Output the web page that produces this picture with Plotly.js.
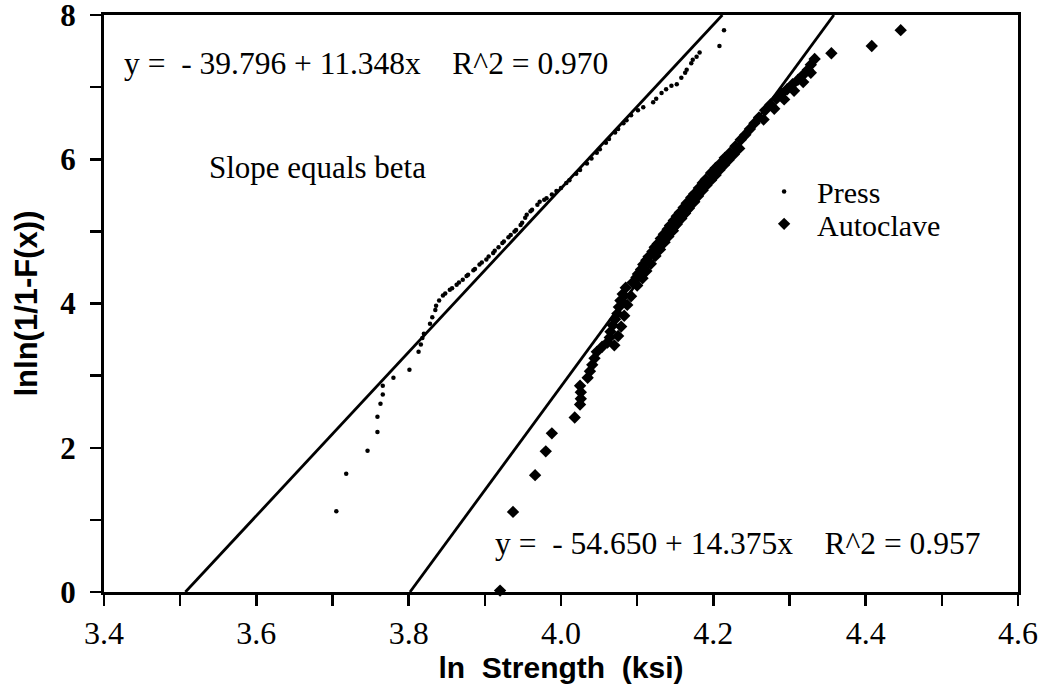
<!DOCTYPE html>
<html>
<head>
<meta charset="utf-8">
<script src="https://cdn.plot.ly/plotly-3.0.1.min.js"></script>
<style>html,body{margin:0;padding:0;background:#fff;}#chart{width:1043px;height:685px;}</style>
</head>
<body>
<div id="chart"></div>
<script>
// Press specimens: ln strength (ksi) and lnln(1/(1-F))
const pressX = [3.705,3.718,3.746,3.759,3.759,3.763,3.766,3.766,3.780,3.801,3.813,3.816,3.818,3.820,3.828,3.831,3.835,3.836,3.840,3.845,3.848,3.854,3.857,3.863,3.866,3.871,3.876,3.878,3.885,3.887,3.893,3.896,3.902,3.905,3.911,3.913,3.918,3.923,3.925,3.931,3.934,3.939,3.941,3.947,3.949,3.953,3.955,3.960,3.962,3.969,3.972,3.978,3.981,3.988,3.994,4.000,4.007,4.011,4.020,4.025,4.034,4.040,4.047,4.051,4.059,4.063,4.071,4.075,4.082,4.086,4.092,4.101,4.108,4.121,4.125,4.132,4.138,4.145,4.152,4.158,4.163,4.165,4.171,4.173,4.178,4.182,4.208,4.214];
const pressY = [1.12,1.64,1.96,2.22,2.43,2.61,2.74,2.86,2.97,3.08,3.33,3.43,3.52,3.58,3.72,3.81,3.91,3.97,4.04,4.11,4.14,4.19,4.21,4.26,4.29,4.33,4.38,4.40,4.46,4.48,4.54,4.57,4.61,4.65,4.70,4.73,4.78,4.84,4.86,4.92,4.95,5.00,5.02,5.09,5.12,5.19,5.23,5.28,5.30,5.37,5.41,5.44,5.46,5.51,5.56,5.60,5.67,5.71,5.80,5.85,5.94,6.01,6.09,6.14,6.23,6.28,6.37,6.42,6.50,6.54,6.61,6.68,6.72,6.79,6.84,6.92,6.97,7.02,7.04,7.13,7.20,7.24,7.33,7.38,7.42,7.48,7.57,7.79];
// Autoclave specimens
const autoX = [3.920,3.937,3.966,3.980,3.988,4.018,4.025,4.026,4.026,4.025,4.035,4.038,4.041,4.044,4.047,4.054,4.061,4.064,4.065,4.068,4.071,4.074,4.076,4.078,4.081,4.085,
  4.094,4.099,4.101,4.105,4.108,4.112,4.115,4.120,4.123,4.127,4.131,4.135,4.140,4.143,4.148,4.152,4.156,4.161,4.165,4.171,4.175,4.181,4.186,4.190,4.197,4.203,4.209,4.215,4.222,4.229,4.236,4.242,4.248,4.254,4.260,4.268,4.275,4.283,4.290,4.297,4.304,4.311,4.318,4.324,4.328,4.333,4.355,4.408,4.446,
  4.070,4.075,4.079,4.083,4.087,4.092,4.100,4.107,4.112,4.118,4.124,4.130,4.136,4.141,4.147,4.152,4.158,4.163,4.168,4.175,4.180,4.186,4.191,4.197,4.203,4.208,4.214,4.220,4.227,4.234,4.266,4.280,4.293,4.306,4.318,4.328];
const autoY = [0.02,1.11,1.62,1.95,2.20,2.42,2.60,2.68,2.77,2.86,2.97,3.06,3.15,3.24,3.33,3.40,3.46,3.53,3.61,3.70,3.78,3.86,3.95,4.04,4.13,4.22,
  4.29,4.36,4.41,4.47,4.54,4.60,4.65,4.72,4.78,4.83,4.90,4.96,5.03,5.08,5.15,5.21,5.26,5.33,5.39,5.47,5.52,5.60,5.67,5.72,5.81,5.88,5.94,6.02,6.09,6.18,6.27,6.34,6.42,6.50,6.58,6.68,6.76,6.84,6.91,6.97,7.04,7.10,7.17,7.24,7.31,7.39,7.47,7.57,7.79,
  3.42,3.55,3.68,3.83,3.98,4.10,4.25,4.35,4.45,4.55,4.66,4.75,4.85,4.93,5.01,5.10,5.18,5.25,5.32,5.41,5.49,5.57,5.64,5.71,5.78,5.85,5.92,5.99,6.07,6.15,6.55,6.70,6.83,6.95,7.07,7.20];
// Regression fits: y = a + b x
const pressFit = {a: -39.796, b: 11.348, r2: 0.970};
const autoFit = {a: -54.650, b: 14.375, r2: 0.957};
const xTickVals = [3.4,3.5,3.6,3.7,3.8,3.9,4.0,4.1,4.2,4.3,4.4,4.5,4.6];
const xTickText = ['3.4','','3.6','','3.8','','4.0','','4.2','','4.4','','4.6'];
const yTickVals = [0,1,2,3,4,5,6,7,8];
const yTickText = ['0','','2','','4','','6','','8'];

const yMin = 0, yMax = 8;
function fitLine(f){
  return {x:[(yMin - f.a)/f.b, (yMax - f.a)/f.b], y:[yMin, yMax]};
}
const pl = fitLine(pressFit), al = fitLine(autoFit);
const serif = 'Liberation Serif, Times New Roman, serif';
const sans = 'Liberation Sans, Arial, sans-serif';
const NB = '\u00A0';
function eqText(f){
  return 'y ='+NB+NB+'- '+Math.abs(f.a).toFixed(3)+' + '+f.b.toFixed(3)+'x'+NB+NB+NB+NB+'R^2 = '+f.r2.toFixed(3);
}

const traces = [
  {x: pl.x, y: pl.y, mode:'lines', line:{color:'#000', width:2.8}, showlegend:false, hoverinfo:'skip'},
  {x: al.x, y: al.y, mode:'lines', line:{color:'#000', width:2.8}, showlegend:false, hoverinfo:'skip'},
  {x: pressX, y: pressY, mode:'markers', name:'Press', legend:'legend', marker:{symbol:'circle', size:4.5, color:'#000'}, cliponaxis:false},
  {x: autoX, y: autoY, mode:'markers', name:'Autoclave', legend:'legend2', marker:{symbol:'diamond', size:9.5, color:'#000'}, cliponaxis:false}
];

const legendStyle = {xanchor:'left', yanchor:'middle', bgcolor:'rgba(0,0,0,0)', font:{family:serif, size:30, color:'#000'}, itemwidth:56};
const layout = {
  width:1043, height:685,
  margin:{l:104, r:25, t:15, b:93},
  paper_bgcolor:'#fff', plot_bgcolor:'#fff',
  showlegend:true,
  legend:Object.assign({x:0.708, y:0.694}, legendStyle),
  legend2:Object.assign({x:0.708, y:0.638}, legendStyle),
  xaxis:{range:[3.4,4.6], tickmode:'array', tickvals:xTickVals, ticktext:xTickText,
    showgrid:false, zeroline:false, showline:true, linecolor:'#000', linewidth:3, mirror:true,
    ticks:'outside', ticklen:11, tickwidth:2.5, tickcolor:'#000', ticklabeloverflow:'allow',
    tickfont:{family:serif, size:32, color:'#000'},
    title:{text:'ln'+NB+' Strength'+NB+' (ksi)', font:{family:sans, size:30, color:'#000', weight:'bold'}, standoff:4}},
  yaxis:{range:[0,8], tickmode:'array', tickvals:yTickVals, ticktext:yTickText,
    showgrid:false, zeroline:false, showline:true, linecolor:'#000', linewidth:3, mirror:true,
    ticks:'outside', ticklen:11, tickwidth:2.5, tickcolor:'#000', ticklabelstandoff:8, ticklabeloverflow:'allow',
    tickfont:{family:serif, size:31, color:'#000', weight:'bold'},
    title:{text:'lnln(1/1-F(x))', font:{family:sans, size:31, color:'#000', weight:'bold'}, standoff:14}},
  annotations:[
    {x:0.0197, y:7.33, xref:'paper', yref:'y', xanchor:'left', yanchor:'middle', showarrow:false,
      text:eqText(pressFit), font:{family:serif, size:31.5, color:'#000'}},
    {x:0.1127, y:5.88, xref:'paper', yref:'y', xanchor:'left', yanchor:'middle', showarrow:false,
      text:'Slope equals beta', font:{family:serif, size:31, color:'#000'}},
    {x:0.4256, y:0.67, xref:'paper', yref:'y', xanchor:'left', yanchor:'middle', showarrow:false,
      text:eqText(autoFit), font:{family:serif, size:31.5, color:'#000'}}
  ]
};
Plotly.newPlot('chart', traces, layout, {staticPlot:true, displayModeBar:false});
</script>
</body>
</html>
